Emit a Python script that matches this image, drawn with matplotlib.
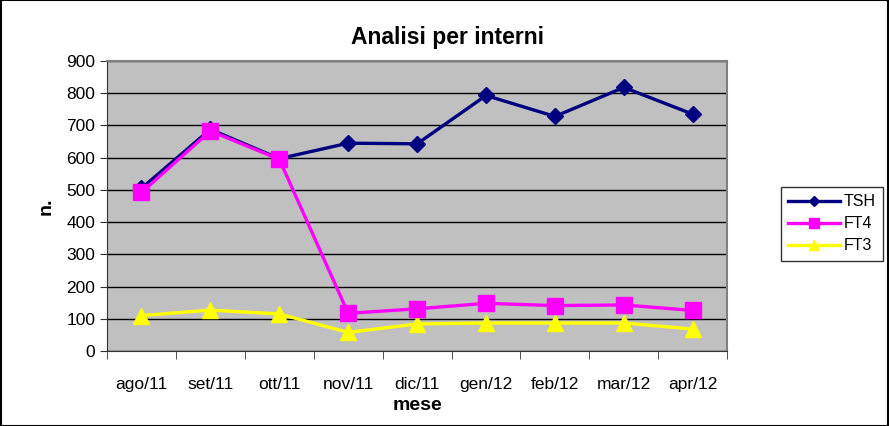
import matplotlib.pyplot as plt
from matplotlib.patches import Rectangle

plt.rcParams['font.family'] = ['Liberation Sans', 'DejaVu Sans']

mesi = ['ago/11', 'set/11', 'ott/11', 'nov/11', 'dic/11', 'gen/12', 'feb/12', 'mar/12', 'apr/12']
tsh = [505, 688, 597, 645, 643, 793, 728, 818, 735]
ft4 = [492, 683, 595, 117, 131, 148, 141, 143, 126]
ft3 = [110, 127, 115, 58, 84, 87, 87, 87, 68]

fig = plt.figure(figsize=(8.89, 4.26), dpi=100)
ax = fig.add_axes([0.1204, 0.176, 0.6976, 0.6808])

fig.patches.append(Rectangle((0.0006, 0.001), 0.9988, 0.998, transform=fig.transFigure,
                             fill=False, edgecolor='black', linewidth=1.5))

ax.set_facecolor('#c0c0c0')
x = range(len(mesi))
ax.plot(x, tsh, color='#000080', lw=2.4, marker='D', ms=8.5, label='TSH', zorder=4)
ax.plot(x, ft4, color='#ff00ff', lw=2.4, marker='s', ms=11, label='FT4', zorder=5)
ax.plot(x, ft3, color='#ffff00', lw=2.4, marker='^', ms=11, label='FT3', zorder=3)

ax.set_xlim(-0.5, len(mesi) - 0.5)
ax.set_ylim(0, 900)
ax.set_yticks(range(0, 901, 100))
ax.set_xticks(x)
ax.set_xticklabels(mesi, fontsize=12.5)
ax.set_xticks([i - 0.5 for i in range(len(mesi) + 1)], minor=True)
ax.tick_params(axis='x', which='major', length=0, pad=19)
ax.tick_params(axis='x', which='minor', length=6, direction='out', color='#333333')
ax.tick_params(axis='y', labelsize=12.5, length=5, direction='out', color='#333333')
ax.grid(axis='y', color='black', lw=1)
ax.set_axisbelow(True)
for s in ['top', 'right']:
    ax.spines[s].set_color('#808080')
    ax.spines[s].set_linewidth(1.5)
ax.spines['left'].set_color('#333333')
ax.spines['bottom'].set_color('#333333')

fig.text(0.503, 0.913, 'Analisi per interni', fontsize=16.5, fontweight='bold',
         ha='center', va='center')
ax.set_xlabel('mese', fontsize=14, fontweight='bold', labelpad=3)
ax.set_ylabel('n.', fontsize=14, fontweight='bold', labelpad=8)

leg = fig.legend(loc='upper left', bbox_to_anchor=(0.869, 0.58), fontsize=11.5,
                 frameon=True, fancybox=False, edgecolor='black', handlelength=3.3,
                 borderpad=0.45, labelspacing=0.45, handletextpad=0.2, markerscale=0.65)
leg.get_frame().set_linewidth(1)

fig.savefig('out.png', dpi=100)
